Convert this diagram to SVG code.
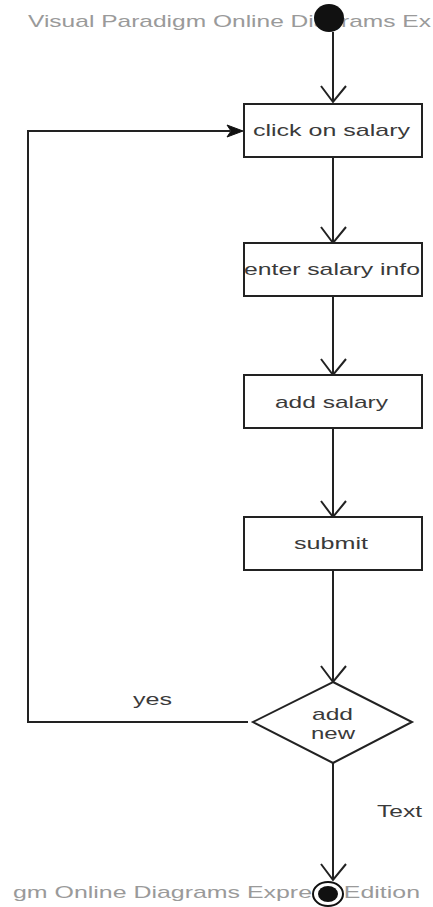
<svg xmlns="http://www.w3.org/2000/svg" width="433" height="907" viewBox="0 0 433 907">
<style>
.wm{font-family:"Liberation Sans",Arial,sans-serif;font-size:17px;fill:#9a9a9a}
.lbl{font-family:"Liberation Sans",Arial,sans-serif;font-size:17px;fill:#3a3a3a}
.box{fill:#fff;stroke:#222;stroke-width:2}
.edge{fill:none;stroke:#222;stroke-width:2}
.open{fill:none;stroke:#222;stroke-width:2}
</style>
<rect width="433" height="907" fill="#fff"/>
<text class="wm" x="28" y="27" textLength="403" lengthAdjust="spacingAndGlyphs">Visual Paradigm Online Diagrams Ex</text>
<text class="wm" x="13" y="898" textLength="407" lengthAdjust="spacingAndGlyphs">gm Online Diagrams Express Edition</text>
<g id="connectors">
<path class="edge" d="M333,32 L333,101"/>
<path class="open" d="M321,86 L333,102 L346,86"/>
<path class="edge" d="M333,157 L333,242"/>
<path class="open" d="M321,227 L333,243 L346,227"/>
<path class="edge" d="M333,296 L333,374"/>
<path class="open" d="M321,359 L333,375 L346,359"/>
<path class="edge" d="M333,428 L333,516"/>
<path class="open" d="M321,501 L333,517 L346,501"/>
<path class="edge" d="M333,570 L333,681"/>
<path class="open" d="M321,666 L333,682 L346,666"/>
<path class="edge" d="M333,763 L333,879"/>
<path class="open" d="M321,864 L333,880 L346,864"/>
<path class="edge" d="M248,722 L28,722 L28,131 L230,131"/>
<path d="M243,131 L227,125 L231,131 L227,137 Z" fill="#111" stroke="#111" stroke-width="1"/>
<text class="lbl" x="133" y="705" textLength="39" lengthAdjust="spacingAndGlyphs">yes</text>
<text class="lbl" x="377" y="817" textLength="45" lengthAdjust="spacingAndGlyphs">Text</text>
</g>
<g id="start">
<ellipse cx="329" cy="18" rx="15" ry="14" fill="#111"/>
</g>
<g id="click-on-salary">
<rect class="box" x="244" y="104" width="178" height="53"/>
<text class="lbl" x="253" y="136" textLength="157" lengthAdjust="spacingAndGlyphs">click on salary</text>
</g>
<g id="enter-salary-info">
<rect class="box" x="244" y="243" width="178" height="53"/>
<text class="lbl" x="244" y="275" textLength="176" lengthAdjust="spacingAndGlyphs">enter salary info</text>
</g>
<g id="add-salary">
<rect class="box" x="244" y="375" width="178" height="53"/>
<text class="lbl" x="275" y="408" textLength="113" lengthAdjust="spacingAndGlyphs">add salary</text>
</g>
<g id="submit">
<rect class="box" x="244" y="517" width="178" height="53"/>
<text class="lbl" x="294" y="549" textLength="74" lengthAdjust="spacingAndGlyphs">submit</text>
</g>
<g id="add-new">
<polygon class="box" points="333,682 412,722 333,763 253,722"/>
<text class="lbl" x="312" y="720" textLength="41" lengthAdjust="spacingAndGlyphs">add</text>
<text class="lbl" x="311" y="739" textLength="44" lengthAdjust="spacingAndGlyphs">new</text>
</g>
<g id="end">
<ellipse cx="328" cy="894" rx="15" ry="12" fill="#fff" stroke="#111" stroke-width="2"/>
<ellipse cx="328" cy="894" rx="10" ry="8" fill="#111"/>
</g>
</svg>
